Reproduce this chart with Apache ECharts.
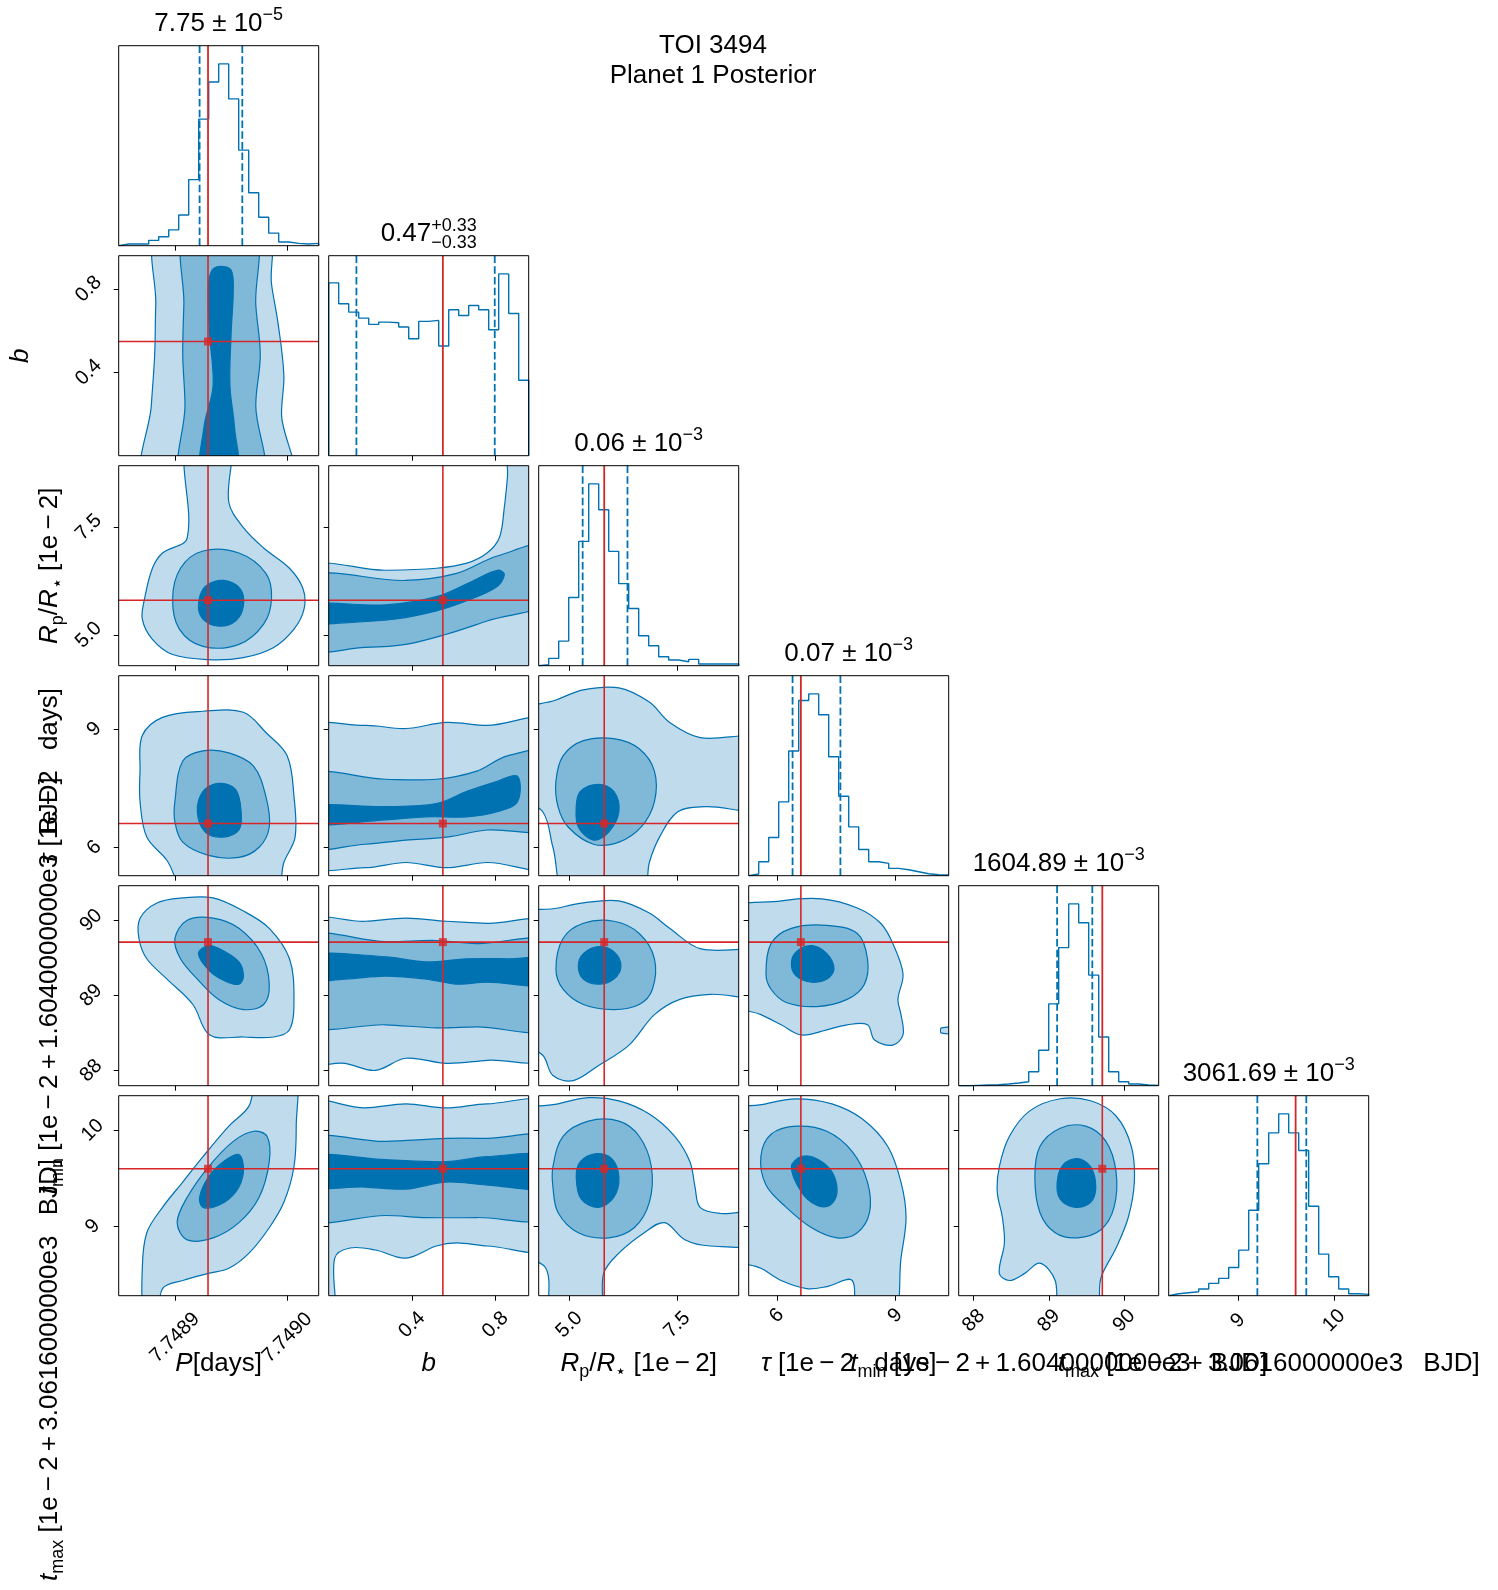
<!DOCTYPE html>
<html>
<head>
<meta charset="utf-8">
<script src="https://cdn.jsdelivr.net/npm/echarts@6.0.0/dist/echarts.min.js"></script>
<style>html,body{margin:0;padding:0;background:#fff;}#chart{width:1498px;height:1590px;}</style>
</head>
<body>
<div id="chart"></div>
<script>
// ---------------- DATA ----------------
const paramNames = ['P', 'b', 'Rp', 'tau', 'tmin', 'tmax'];
const axisMin = [7.74885, 0, 4.29, 5.29, 87.80, 8.28];
const axisMax = [7.749028, 0.96, 8.93, 10.35, 90.46, 10.36];
const tickValues = [[7.7489, 7.7490], [0.4, 0.8], [5.0, 7.5], [6, 9], [88, 89, 90], [9, 10]];
const tickLabels = [['7.7489', '7.7490'], ['0.4', '0.8'], ['5.0', '7.5'], ['6', '9'], ['88', '89', '90'], ['9', '10']];

const histP    = [5, 5, 5, 16, 27, 48, 93, 200, 383, 495, 550, 444, 289, 160, 86, 38, 11, 7, 5, 7];
const histB    = [520, 457, 432, 414, 395, 402, 400, 387, 352, 404, 407, 330, 439, 422, 452, 439, 379, 547, 428, 227];
const histRp   = [3, 22, 74, 205, 374, 547, 469, 344, 247, 172, 90, 60, 27, 17, 12, 19, 5, 5, 5, 5];
const histTau  = [5, 42, 115, 222, 375, 527, 547, 484, 358, 239, 147, 79, 42, 37, 22, 18, 12, 6, 3, 2];
const histTmin = [0, 1, 2, 3, 5, 8, 12, 42, 107, 247, 417, 549, 492, 334, 147, 42, 12, 5, 2, 1];
const histTmax = [6, 9, 12, 20, 37, 52, 85, 137, 257, 397, 490, 547, 490, 437, 269, 125, 57, 20, 6, 4];

const truths = [7.7489295, 0.548, 5.81, 6.61, 89.71, 9.60];
const q16 = [7.748922, 0.133, 5.31, 6.40, 89.109, 9.202];
const q84 = [7.748960, 0.797, 6.35, 7.61, 89.577, 9.711];

const titleMain = ['7.75 ± 10', '0.47', '0.06 ± 10', '0.07 ± 10', '1604.89 ± 10', '3061.69 ± 10'];
const titleSup  = ['−5', '+0.33', '−3', '−3', '−3', '−3'];
const titleSub  = ['', '−0.33', '', '', '', ''];

// density contours (credible regions) per panel, in data units: light (outer), mid, dark (inner)
const cont_P_b = {
  light: [[[7.748886,0.96],[7.748883,0.726],[7.748882,0.482],[7.748879,0.239],[7.748875,0],[7.749002,0],[7.748995,0.19],[7.748997,0.385],[7.748992,0.629],[7.748986,0.824],[7.748981,0.96]]],
  mid: [[[7.748910,0.96],[7.748908,0.726],[7.748907,0.482],[7.748909,0.239],[7.748907,0],[7.748977,0],[7.748972,0.239],[7.748976,0.482],[7.748972,0.726],[7.748970,0.96]]],
  dark: [[[7.748930,0.824],[7.748931,0.58],[7.748934,0.336],[7.748926,0.141],[7.748924,0],[7.748955,0],[7.748953,0.141],[7.748949,0.336],[7.748950,0.58],[7.748952,0.824],[7.748949,0.897],[7.748935,0.901]]]
};
const cont_P_Rp = {
  light: [[[7.748911,8.93],[7.748911,7.258],[7.748889,6.904],[7.748880,6.551],[7.748873,5.844],[7.748871,5.373],[7.748880,4.902],[7.748898,4.549],[7.748930,4.431],[7.748961,4.478],[7.748988,4.714],[7.749006,5.138],[7.749015,5.609],[7.749014,6.080],[7.749002,6.551],[7.748979,7.022],[7.748961,7.493],[7.748948,8.082],[7.748948,8.93]]],
  mid: [[[7.748898,5.844],[7.748905,6.551],[7.748925,6.951],[7.748957,6.904],[7.748981,6.433],[7.748986,5.844],[7.748979,5.256],[7.748957,4.785],[7.748925,4.738],[7.748904,5.138]]],
  dark: [[[7.748921,5.703],[7.748927,6.127],[7.748943,6.268],[7.748958,6.080],[7.748961,5.680],[7.748954,5.326],[7.748939,5.209],[7.748925,5.373]]]
};
const cont_P_tau = {
  light: [[[7.748869,7.165],[7.748869,7.936],[7.748871,8.835],[7.748889,9.297],[7.748925,9.451],[7.748961,9.425],[7.748981,8.912],[7.749000,8.321],[7.749006,7.293],[7.749007,6.266],[7.748997,5.624],[7.748988,5.29],[7.748914,5.29],[7.748893,5.675],[7.748875,6.266]]],
  mid: [[[7.748900,7.165],[7.748907,8.192],[7.748925,8.449],[7.748948,8.398],[7.748970,8.064],[7.748981,7.293],[7.748984,6.523],[7.748975,6.009],[7.748957,5.752],[7.748930,5.804],[7.748907,6.138],[7.748900,6.651]]],
  dark: [[[7.748920,6.908],[7.748925,7.422],[7.748939,7.627],[7.748954,7.473],[7.748959,6.908],[7.748957,6.446],[7.748943,6.266],[7.748927,6.394]]]
};
const cont_P_tmin = {
  light: [[[7.748868,89.758],[7.748869,90.028],[7.748884,90.231],[7.748907,90.298],[7.748934,90.298],[7.748961,90.123],[7.748984,89.893],[7.749002,89.488],[7.749006,88.948],[7.749002,88.543],[7.748988,88.448],[7.748961,88.448],[7.748931,88.475],[7.748916,88.880],[7.748893,89.218],[7.748875,89.488]]],
  mid: [[[7.748900,89.758],[7.748911,90.001],[7.748934,90.028],[7.748957,89.893],[7.748977,89.555],[7.748984,89.150],[7.748979,88.880],[7.748961,88.813],[7.748939,88.948],[7.748920,89.218],[7.748905,89.488]]],
  dark: [[[7.748921,89.555],[7.748930,89.663],[7.748943,89.596],[7.748957,89.447],[7.748961,89.258],[7.748957,89.150],[7.748945,89.191],[7.748931,89.326]]]
};
const cont_P_tmax = {
  light: [[[7.748975,10.36],[7.749006,10.36],[7.749008,10.043],[7.749006,9.621],[7.748997,9.251],[7.748984,8.987],[7.748966,8.723],[7.748948,8.565],[7.748930,8.512],[7.748907,8.438],[7.748889,8.354],[7.748884,8.28],[7.748873,8.28],[7.748871,8.565],[7.748875,8.935],[7.748889,9.199],[7.748907,9.462],[7.748925,9.726],[7.748948,10.043],[7.748966,10.254]]],
  mid: [[[7.748902,9.040],[7.748911,9.304],[7.748930,9.621],[7.748952,9.885],[7.748970,9.990],[7.748982,9.938],[7.748984,9.674],[7.748975,9.304],[7.748957,9.040],[7.748934,8.882],[7.748911,8.861]]],
  dark: [[[7.748922,9.304],[7.748930,9.515],[7.748943,9.674],[7.748957,9.748],[7.748961,9.568],[7.748954,9.357],[7.748939,9.220],[7.748925,9.199]]]
};
const cont_b_Rp = {
  light: [[[0,6.504],[0.273,6.504],[0.517,6.551],[0.663,6.669],[0.760,6.904],[0.819,7.258],[0.843,7.964],[0.858,8.671],[0.872,8.93],[0.96,8.93],[0.96,4.29],[0,4.29]]],
  mid: [[[0,6.316],[0.370,6.268],[0.614,6.433],[0.809,6.834],[0.96,7.093],[0.96,5.844],[0.760,5.326],[0.565,5.020],[0.370,4.785],[0.175,4.714],[0,4.714]]],
  dark: [[[0,5.703],[0.273,5.703],[0.517,5.892],[0.687,6.245],[0.809,6.504],[0.843,6.410],[0.809,6.127],[0.663,5.797],[0.517,5.562],[0.322,5.373],[0.127,5.303],[0,5.303]]]
};
const cont_b_tau = {
  light: [[[0,8.963],[0.175,9.091],[0.370,9.014],[0.565,9.168],[0.760,9.091],[0.96,9.168],[0.96,5.573],[0.760,5.624],[0.565,5.495],[0.370,5.624],[0.175,5.495],[0,5.624]]],
  mid: [[[0,7.807],[0.273,7.730],[0.517,7.730],[0.711,7.936],[0.858,8.321],[0.96,8.398],[0.96,6.523],[0.760,6.446],[0.565,6.266],[0.370,6.189],[0.175,6.086],[0,6.061]]],
  dark: [[[0,7.037],[0.273,7.037],[0.517,7.114],[0.663,7.422],[0.809,7.679],[0.906,7.807],[0.906,7.165],[0.809,6.908],[0.663,6.780],[0.468,6.780],[0.273,6.703],[0,6.600]]]
};
const cont_b_tmin = {
  light: [[[0,89.960],[0.175,89.987],[0.370,90.028],[0.565,89.987],[0.760,89.960],[0.96,89.933],[0.96,88.205],[0.760,88.138],[0.565,88.097],[0.370,88.165],[0.224,88.003],[0.078,88.097],[0,88.138]]],
  mid: [[[0,89.758],[0.273,89.717],[0.517,89.731],[0.711,89.690],[0.96,89.690],[0.96,88.583],[0.711,88.583],[0.517,88.570],[0.273,88.610],[0,88.637]]],
  dark: [[[0,89.528],[0.273,89.515],[0.468,89.447],[0.663,89.488],[0.858,89.488],[0.96,89.474],[0.96,89.150],[0.760,89.177],[0.614,89.150],[0.468,89.218],[0.273,89.258],[0.078,89.218],[0,89.218]]]
};
const cont_b_tmax = {
  light: [[[0,10.254],[0.175,10.233],[0.370,10.275],[0.565,10.233],[0.760,10.275],[0.96,10.254],[0.96,8.797],[0.760,8.797],[0.614,8.829],[0.517,8.797],[0.370,8.671],[0.224,8.755],[0.102,8.776],[0.029,8.671],[0.019,8.28],[0,8.28]]],
  mid: [[[0,9.885],[0.273,9.885],[0.565,9.916],[0.760,9.916],[0.96,9.906],[0.96,9.114],[0.711,9.093],[0.468,9.093],[0.273,9.114],[0,9.093]]],
  dark: [[[0,9.726],[0.273,9.695],[0.565,9.674],[0.760,9.726],[0.96,9.726],[0.96,9.410],[0.760,9.431],[0.565,9.462],[0.370,9.389],[0.175,9.410],[0,9.431]]]
};
const cont_Rp_tau = {
  light: [[[4.29,9.348],[4.690,9.734],[5.326,9.990],[6.151,10.042],[6.857,9.682],[7.328,9.168],[8.035,8.783],[8.93,8.706],[8.93,7.037],[8.153,7.037],[7.517,6.908],[7.093,6.266],[6.857,5.624],[6.669,5.29],[4.973,5.29],[4.620,6.009],[4.384,6.908],[4.29,7.422]]],
  mid: [[[4.690,7.679],[4.855,8.321],[5.326,8.706],[6.033,8.757],[6.622,8.501],[6.975,7.936],[6.975,7.165],[6.669,6.523],[6.151,6.138],[5.562,6.086],[4.973,6.523],[4.738,7.037]]],
  dark: [[[5.161,7.037],[5.256,7.422],[5.680,7.602],[6.033,7.422],[6.151,6.908],[5.915,6.394],[5.562,6.189],[5.209,6.523]]]
};
const cont_Rp_tmin = {
  light: [[[4.29,90.028],[4.738,90.163],[5.326,90.231],[6.151,90.258],[6.857,90.096],[7.328,89.893],[8.035,89.623],[8.93,89.555],[8.93,89.015],[8.270,89.015],[7.564,88.948],[6.975,88.745],[6.386,88.340],[5.680,88.070],[5.091,87.868],[4.620,87.935],[4.384,88.205],[4.29,88.475]]],
  mid: [[[4.690,89.353],[4.855,89.758],[5.326,89.960],[6.033,89.987],[6.622,89.825],[6.975,89.488],[6.928,89.083],[6.622,88.880],[6.033,88.813],[5.326,88.880],[4.855,89.083]]],
  dark: [[[5.209,89.393],[5.326,89.555],[5.680,89.650],[6.033,89.582],[6.198,89.393],[6.033,89.218],[5.680,89.150],[5.326,89.218]]]
};
const cont_Rp_tmax = {
  light: [[[4.29,10.149],[4.738,10.275],[5.444,10.339],[6.151,10.307],[6.857,10.170],[7.446,9.938],[7.799,9.674],[7.917,9.410],[8.035,9.199],[8.506,9.135],[8.93,9.135],[8.93,8.829],[8.270,8.797],[7.682,8.861],[7.211,9.040],[6.739,8.935],[6.151,8.723],[5.797,8.512],[5.680,8.28],[4.620,8.28],[4.455,8.565],[4.29,8.776]]],
  mid: [[[4.620,9.621],[4.855,9.938],[5.444,10.096],[6.151,10.096],[6.622,9.938],[6.904,9.621],[6.857,9.251],[6.504,8.987],[5.915,8.882],[5.209,8.935],[4.738,9.146],[4.620,9.410]]],
  dark: [[[5.161,9.515],[5.256,9.674],[5.632,9.758],[5.986,9.705],[6.151,9.515],[6.033,9.304],[5.680,9.199],[5.279,9.283]]]
};
const cont_tau_tmin = {
  light: [[[5.29,90.096],[6.112,90.258],[7.139,90.285],[8.038,90.163],[8.629,89.960],[8.937,89.690],[9.194,89.285],[9.066,88.948],[9.143,88.745],[9.194,88.475],[8.937,88.340],[8.475,88.408],[8.295,88.610],[7.781,88.610],[7.268,88.543],[6.626,88.475],[6.112,88.610],[5.598,88.745],[5.29,88.948]],
          [[10.17,88.57],[10.35,88.57],[10.35,88.50],[10.17,88.50]]],
  mid: [[[5.727,89.285],[5.855,89.690],[6.369,89.893],[7.268,89.933],[8.038,89.825],[8.295,89.488],[8.218,89.150],[7.781,88.948],[7.011,88.853],[6.240,88.907],[5.855,89.083]]],
  dark: [[[6.369,89.420],[6.497,89.582],[6.882,89.663],[7.268,89.555],[7.448,89.353],[7.268,89.218],[6.882,89.177],[6.497,89.258]]]
};
const cont_tau_tmax = {
  light: [[[5.29,10.149],[5.727,10.275],[6.497,10.328],[7.396,10.275],[8.167,10.117],[8.809,9.832],[9.143,9.462],[9.271,9.093],[9.143,8.671],[8.937,8.28],[8.038,8.28],[7.910,8.438],[7.268,8.375],[6.754,8.354],[6.112,8.438],[5.598,8.565],[5.29,8.723]]],
  mid: [[[5.598,9.726],[5.855,9.959],[6.497,10.043],[7.268,9.990],[7.910,9.779],[8.295,9.462],[8.347,9.146],[8.038,8.935],[7.525,8.882],[6.882,8.987],[6.240,9.199],[5.727,9.431]]],
  dark: [[[6.369,9.621],[6.626,9.726],[7.011,9.705],[7.396,9.568],[7.525,9.357],[7.345,9.220],[7.011,9.220],[6.626,9.357]]]
};
const cont_tmin_tmax = {
  light: [[[88.340,9.621],[88.475,9.938],[88.745,10.202],[89.150,10.328],[89.555,10.307],[89.893,10.149],[90.096,9.832],[90.136,9.462],[90.055,9.093],[89.893,8.776],[89.690,8.459],[89.623,8.28],[89.150,8.28],[89.083,8.438],[88.880,8.618],[88.678,8.512],[88.475,8.438],[88.340,8.512],[88.408,8.829],[88.381,9.093],[88.313,9.357]]],
  mid: [[[88.813,9.515],[88.880,9.832],[89.150,10.022],[89.488,10.043],[89.758,9.885],[89.893,9.568],[89.866,9.199],[89.690,8.966],[89.380,8.882],[89.083,8.935],[88.880,9.146]]],
  dark: [[[89.110,9.462],[89.191,9.642],[89.380,9.705],[89.555,9.621],[89.623,9.410],[89.555,9.251],[89.353,9.199],[89.150,9.283]]]
};

// ---------------- LAYOUT / STYLE ----------------
const FONT = '"Liberation Sans", Arial, Helvetica, sans-serif';
const BLUE = '#0072b2', RED = '#d62728';
const FILLS = ['#bfdbec', '#80b8d8', '#0072b2'];
const L0 = 118.7, T0 = 45.7, STEP = 210, SIZE = 200;
const N = 6;
const LABEL_FS = 26, SUB_FS = 18, TICK_FS = 20;
const xMargin = [42, 29, 29, 20, 25, 25];
const yMargin = [30, 30, 30, 24.5, 27.5, 26];
const DASH = [7.5, 3.2];

const histCounts = [histP, histB, histRp, histTau, histTmin, histTmax];
const contours = {
  '1,0': cont_P_b, '2,0': cont_P_Rp, '3,0': cont_P_tau, '4,0': cont_P_tmin, '5,0': cont_P_tmax,
  '2,1': cont_b_Rp, '3,1': cont_b_tau, '4,1': cont_b_tmin, '5,1': cont_b_tmax,
  '3,2': cont_Rp_tau, '4,2': cont_Rp_tmin, '5,2': cont_Rp_tmax,
  '4,3': cont_tau_tmin, '5,3': cont_tau_tmax,
  '5,4': cont_tmin_tmax
};

// text helpers (canvas measurement to lay out math-like labels)
const cv = document.createElement('canvas');
const ctx = cv.getContext('2d');
function fontCss(sz, it) { return (it ? 'italic ' : '') + sz + 'px ' + FONT; }
function textW(t, sz, it) { ctx.font = fontCss(sz, it); return ctx.measureText(t).width; }
function midOff(sz) {
  ctx.font = fontCss(sz, false);
  ctx.textBaseline = 'middle';
  const m = ctx.measureText('0');
  ctx.textBaseline = 'alphabetic';
  const v = m.alphabeticBaseline;
  return (typeof v === 'number' && isFinite(v) && v !== 0) ? Math.abs(v) : 0.35 * sz;
}
function mathGroup(pieces, x, y, align, rot) {
  let cur = 0, lastStart = 0;
  const kids = [];
  pieces.forEach(p => {
    if (!p.t) return;
    const sz = p.sz || LABEL_FS;
    const w = textW(p.t, sz, p.it);
    let px;
    if (p.stack) { px = lastStart; cur = Math.max(cur, lastStart + w); }
    else { px = cur; lastStart = cur; cur += w; }
    kids.push({
      type: 'text', x: px, y: (p.dy || 0) - midOff(sz), silent: true,
      style: {
        text: p.t, font: fontCss(sz, p.it), fill: '#000',
        textAlign: 'left', align: 'left', textVerticalAlign: 'middle', verticalAlign: 'middle'
      }
    });
  });
  const shift = align === 'center' ? -cur / 2 : 0;
  kids.forEach(k => { k.x += shift; });
  return { type: 'group', x: x, y: y, rotation: rot || 0, silent: true, children: kids };
}

function axisPieces(j) {
  const S = SUB_FS;
  switch (j) {
    case 0: return [{ t: 'P', it: true }, { t: '[days]' }];
    case 1: return [{ t: 'b', it: true }];
    case 2: return [{ t: 'R', it: true }, { t: 'p', sz: S, dy: 6 }, { t: '/' }, { t: 'R', it: true }, { t: '⋆', sz: S, dy: 6 }, { t: ' [1e\u2009−\u20092]' }];
    case 3: return [{ t: 'τ', it: true }, { t: ' [1e\u2009−\u20092\u2002 days]' }];
    case 4: return [{ t: 't', it: true }, { t: 'min', sz: S, dy: 6 }, { t: ' [1e\u2009−\u20092\u2009+\u20091.6040000000e3\u2002 BJD]' }];
    case 5: return [{ t: 't', it: true }, { t: 'max', sz: S, dy: 6 }, { t: ' [1e\u2009−\u20092\u2009+\u20093.0616000000e3\u2002 BJD]' }];
  }
  return [];
}

function labelFor(j, v) {
  const k = tickValues[j].findIndex(t => Math.abs(t - v) < 1e-9);
  return k >= 0 ? tickLabels[j][k] : '';
}

// ---------------- BUILD OPTION ----------------
const grids = [], xAxes = [], yAxes = [], series = [], graphics = [];

function addGrid(i, j) {
  grids.push({
    left: L0 + STEP * j, top: T0 + STEP * i, width: SIZE, height: SIZE,
    show: true, borderColor: '#000', borderWidth: 1, backgroundColor: 'rgba(0,0,0,0)',
    z: 10, containLabel: false, outerBoundsMode: 'none'
  });
  return grids.length - 1;
}
function axisCfg(g, p, showLabel, margin) {
  return {
    type: 'value', gridIndex: g, min: axisMin[p], max: axisMax[p],
    axisLine: { show: false }, splitLine: { show: false },
    axisTick: { show: true, customValues: tickValues[p], length: 5, lineStyle: { color: '#000', width: 1 } },
    axisLabel: {
      show: showLabel, customValues: tickValues[p], formatter: v => labelFor(p, v),
      rotate: 45, align: 'center', verticalAlign: 'middle', margin: margin,
      color: '#000', fontSize: TICK_FS, fontFamily: FONT
    }
  };
}
function segLine(g, pts, color, width, type, z) {
  return {
    type: 'line', xAxisIndex: g, yAxisIndex: g, data: pts, showSymbol: false, symbol: 'none',
    silent: true, animation: false, z: z, lineStyle: { color: color, width: width, type: type }
  };
}

for (let i = 0; i < N; i++) {
  for (let j = 0; j <= i; j++) {
    const g = addGrid(i, j);
    xAxes.push(axisCfg(g, j, i === N - 1, xMargin[j]));
    if (i === j) {
      const counts = histCounts[j];
      const ymax = Math.max.apply(null, counts) * 1.1;
      yAxes.push({ type: 'value', gridIndex: g, min: 0, max: ymax, show: false, splitLine: { show: false } });
      const nb = counts.length, w = (axisMax[j] - axisMin[j]) / nb, e0 = axisMin[j];
      const d = [[e0, 0]];
      counts.forEach((c, k) => d.push([e0 + k * w, c]));
      d.push([e0 + nb * w, counts[nb - 1]]);
      d.push([e0 + nb * w, 0]);
      series.push({
        type: 'line', xAxisIndex: g, yAxisIndex: g, data: d, step: 'end',
        showSymbol: false, symbol: 'none', silent: true, animation: false, z: 3,
        lineStyle: { color: BLUE, width: 1.4 }
      });
      series.push(segLine(g, [[q16[j], 0], [q16[j], ymax]], BLUE, 1.8, DASH, 4));
      series.push(segLine(g, [[q84[j], 0], [q84[j], ymax]], BLUE, 1.8, DASH, 4));
      series.push(segLine(g, [[truths[j], 0], [truths[j], ymax]], RED, 1.8, 'solid', 5));
      // histogram title
      const cx = L0 + STEP * j + SIZE / 2, base = T0 + STEP * i - 15;
      const pieces = [{ t: titleMain[j] }];
      if (titleSub[j]) {
        pieces.push({ t: titleSup[j], sz: SUB_FS, dy: -10 });
        pieces.push({ t: titleSub[j], sz: SUB_FS, dy: 7, stack: true });
      } else {
        pieces.push({ t: titleSup[j], sz: SUB_FS, dy: -11 });
      }
      graphics.push(mathGroup(pieces, cx, base, 'center', 0));
    } else {
      yAxes.push(axisCfg(g, i, j === 0, yMargin[i]));
      const cont = contours[i + ',' + j];
      const items = [];
      ['light', 'mid', 'dark'].forEach((lv, li) => (cont[lv] || []).forEach(poly => items.push({ li: li, poly: poly })));
      series.push({
        type: 'custom', xAxisIndex: g, yAxisIndex: g, silent: true, animation: false, clip: true, z: 2,
        data: items.map((it, k) => [it.poly[0][0], it.poly[0][1], k]),
        renderItem: (params, api) => {
          const it = items[params.dataIndex];
          const cs = params.coordSys;
          const pts = it.poly.map(p => {
            const c = api.coord(p);
            if (Math.abs(c[0] - cs.x) < 0.6) c[0] -= 25; else if (Math.abs(c[0] - (cs.x + cs.width)) < 0.6) c[0] += 25;
            if (Math.abs(c[1] - cs.y) < 0.6) c[1] -= 25; else if (Math.abs(c[1] - (cs.y + cs.height)) < 0.6) c[1] += 25;
            return c;
          });
          return {
            type: 'group',
            clipPath: { type: 'rect', shape: { x: cs.x, y: cs.y, width: cs.width, height: cs.height } },
            children: [{
              type: 'polygon', shape: { points: pts, smooth: 0.35 },
              style: { fill: FILLS[it.li], stroke: BLUE, lineWidth: 1.2 }
            }]
          };
        }
      });
      series.push(segLine(g, [[truths[j], axisMin[i]], [truths[j], axisMax[i]]], RED, 1.6, 'solid', 4));
      series.push(segLine(g, [[axisMin[j], truths[i]], [axisMax[j], truths[i]]], RED, 1.6, 'solid', 4));
      series.push({
        type: 'scatter', xAxisIndex: g, yAxisIndex: g, data: [[truths[j], truths[i]]],
        symbol: 'rect', symbolSize: 8, itemStyle: { color: RED }, silent: true, animation: false, z: 5
      });
    }
  }
}

// main title
graphics.push(mathGroup([{ t: 'TOI 3494' }], 713, 53, 'center', 0));
graphics.push(mathGroup([{ t: 'Planet 1 Posterior' }], 713, 83, 'center', 0));

// bottom axis labels
for (let j = 0; j < N; j++) {
  graphics.push(mathGroup(axisPieces(j), L0 + STEP * j + SIZE / 2, 1371, 'center', 0));
}
// left axis labels (rotated)
const ROT = Math.PI / 2;
graphics.push(mathGroup(axisPieces(1), 28, T0 + STEP * 1 + SIZE / 2, 'center', ROT));
graphics.push(mathGroup(axisPieces(2), 57, T0 + STEP * 2 + SIZE / 2, 'center', ROT));
graphics.push(mathGroup(axisPieces(3), 57, T0 + STEP * 3 + SIZE / 2, 'center', ROT));
graphics.push(mathGroup(axisPieces(4), 57, T0 + STEP * 4 + SIZE / 2, 'center', ROT));
graphics.push(mathGroup(axisPieces(5), 57, 1581, 'left', ROT));

const chart = echarts.init(document.getElementById('chart'), null, { renderer: 'canvas' });
chart.setOption({
  backgroundColor: '#fff',
  animation: false,
  textStyle: { fontFamily: FONT },
  grid: grids, xAxis: xAxes, yAxis: yAxes, series: series,
  graphic: { elements: graphics }
});
</script>
</body>
</html>
